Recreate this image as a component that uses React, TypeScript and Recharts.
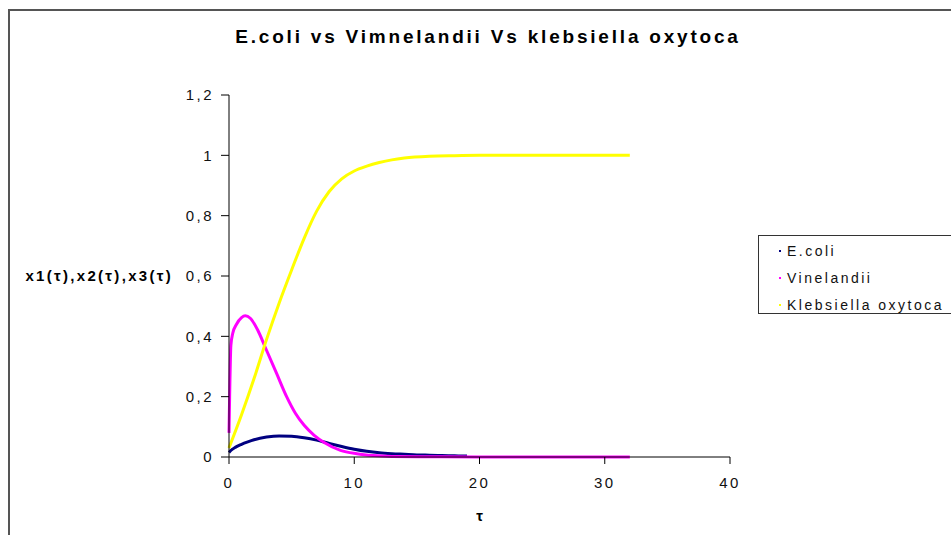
import React from 'react';
import { LineChart, Line, XAxis, YAxis, Legend } from 'recharts';

// time values and series
const tEcoli = [0, 0.25, 0.5, 1, 1.5, 2, 3, 4, 5, 6, 7, 8, 9, 10, 11, 12, 13, 14, 15, 16, 17, 18, 19];
const ecoli = [0.015, 0.025, 0.032, 0.042, 0.05, 0.057, 0.066, 0.07, 0.069, 0.064, 0.056, 0.045, 0.035, 0.026, 0.019, 0.014, 0.011, 0.009, 0.007, 0.006, 0.005, 0.004, 0.003];

const tVine = [0, 0.05, 0.15, 0.3, 0.6, 1, 1.3, 1.7, 2.3, 2.9, 3.8, 4.6, 5.3, 6, 6.8, 7.6, 8.9, 10.2, 11.5, 13, 16, 20, 25, 32];
const vinelandii = [0.08, 0.2, 0.37, 0.41, 0.44, 0.462, 0.468, 0.46, 0.42, 0.363, 0.277, 0.2, 0.145, 0.105, 0.072, 0.048, 0.022, 0.011, 0.005, 0.002, 0.001, 0, 0, 0];

const tKleb = [0, 1, 2, 3, 4, 5, 6, 7, 8, 9, 10, 11, 12, 13, 14, 16, 18, 20, 25, 32];
const klebsiella = [0.03, 0.14, 0.26, 0.39, 0.51, 0.62, 0.725, 0.815, 0.88, 0.922, 0.948, 0.964, 0.976, 0.985, 0.991, 0.997, 0.999, 1.0, 1.0, 1.0];

const seriesNames = ['E.coli', 'Vinelandii', 'Klebsiella oxytoca'];
const xTicks = [0, 10, 20, 30, 40];
const yTicks = [0, 0.2, 0.4, 0.6, 0.8, 1, 1.2];

const toRows = (ts: number[], vs: number[]) => ts.map((t, i) => ({ t, v: vs[i] }));

const tickStyle = { fill: '#111', fontSize: 15, fontFamily: 'Liberation Sans, Arial, sans-serif', letterSpacing: 2.5 };

const LegendBox = (props: any) => {
  const items = [...(props.payload || [])].sort(
    (a: any, b: any) => seriesNames.indexOf(a.value) - seriesNames.indexOf(b.value)
  );
  return (
    <div
      style={{
        width: 215,
        height: 79,
        boxSizing: 'border-box',
        border: '1.5px solid #333',
        background: '#fff',
        paddingTop: 1,
        fontFamily: 'Liberation Sans, Arial, sans-serif',
        fontSize: 14,
        letterSpacing: 2.5,
        color: '#111',
      }}
    >
      {items.map((it: any) => (
        <div key={it.value} style={{ height: 27, display: 'flex', alignItems: 'center' }}>
          <span style={{ width: 2, height: 2, background: it.color, marginLeft: 20, marginRight: 6 }} />
          <span>{it.value}</span>
        </div>
      ))}
    </div>
  );
};

const App = () => {
  return (
    <div style={{ position: 'absolute', left: 0, top: 0, width: 951, height: 535, overflow: 'hidden', background: '#fff' }}>
      <div style={{ position: 'absolute', left: 8, top: 9, width: 1100, height: 700, border: '2px solid #555' }} />
      <div
        style={{
          position: 'absolute',
          left: 0,
          top: 27,
          width: 976,
          textAlign: 'center',
          fontFamily: 'Liberation Sans, Arial, sans-serif',
          fontWeight: 'bold',
          fontSize: 19,
          lineHeight: '20px',
          letterSpacing: 2.8,
          color: '#000',
        }}
      >
        E.coli vs Vimnelandii Vs klebsiella oxytoca
      </div>
      <div style={{ position: 'absolute', left: 0, top: 0 }}>
        <LineChart width={951} height={535} margin={{ top: 95, right: 221, left: 169, bottom: 48 }}>
          <XAxis
            type="number"
            dataKey="t"
            domain={[0, 40]}
            ticks={xTicks}
            height={30}
            stroke="#000"
            tickSize={7}
            tickMargin={13}
            tick={tickStyle}
            label={{
              value: 'τ',
              position: 'bottom',
              offset: 23,
              style: { fontFamily: 'Liberation Sans, Arial, sans-serif', fontWeight: 'bold', fontSize: 15, fill: '#000' },
            }}
          />
          <YAxis
            type="number"
            domain={[0, 1.2]}
            ticks={yTicks}
            width={60}
            stroke="#000"
            tickSize={8}
            tickMargin={7}
            tick={tickStyle}
            tickFormatter={(v: number) => String(v).replace('.', ',')}
            label={{
              value: 'x1(τ),x2(τ),x3(τ)',
              position: 'left',
              offset: -4,
              style: { fontFamily: 'Liberation Sans, Arial, sans-serif', fontWeight: 'bold', fontSize: 15, letterSpacing: 2.3, fill: '#000' },
            }}
          />
          <Legend
            layout="vertical"
            align="center"
            verticalAlign="middle"
            wrapperStyle={{ left: 758, top: 235, width: 215 }}
            content={<LegendBox />}
          />
          <Line data={toRows(tEcoli, ecoli)} dataKey="v" name="E.coli" type="monotone" stroke="#000080" strokeWidth={3} dot={false} isAnimationActive={false} />
          <Line data={toRows(tVine, vinelandii)} dataKey="v" name="Vinelandii" type="monotone" stroke="#ff00ff" strokeWidth={3} dot={false} isAnimationActive={false} />
          <Line data={toRows(tKleb, klebsiella)} dataKey="v" name="Klebsiella oxytoca" type="monotone" stroke="#ffff00" strokeWidth={3} dot={false} isAnimationActive={false} />
        </LineChart>
      </div>
    </div>
  );
};

export default App;
